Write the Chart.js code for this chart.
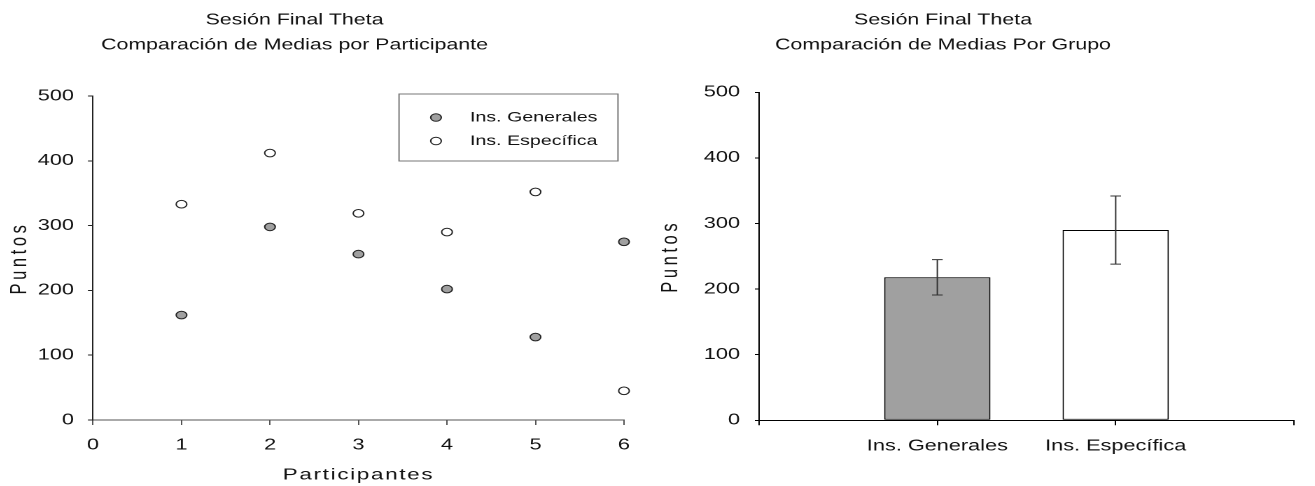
<!DOCTYPE html>
<html>
<head>
<meta charset="utf-8">
<script src="https://cdn.jsdelivr.net/npm/chart.js@4.4.1/dist/chart.umd.min.js"></script>
<style>
  html, body { margin: 0; padding: 0; background: #fff; width: 1315px; height: 486px; overflow: hidden; position: relative; }
  canvas { position: absolute; top: 0; }
</style>
</head>
<body>
<!-- both charts are drawn narrow and widened horizontally by 1.4 -->
<canvas id="left" width="490" height="486" style="left:-41px;width:686px;height:486px"></canvas>
<canvas id="right" width="520" height="486" style="left:582px;width:728px;height:486px"></canvas>
<script>
// ---- data ----
const participants   = [1, 2, 3, 4, 5, 6];
const generalScores  = [162, 298, 256, 202, 128, 275];
const specificScores = [333, 412, 319, 290, 352, 45];

const groupLabels = ['', 'Ins. Generales', 'Ins. Específica', ''];
const groupMeans  = [null, 218, 290, null];
const groupErrors = [null, 27, 52, null];

const seriesNames = ['Ins. Generales', 'Ins. Específica'];
const titleLeft   = ['Sesión Final Theta', 'Comparación de Medias por Participante'];
const titleRight  = ['Sesión Final Theta', 'Comparación de Medias Por Grupo'];

// ---- styling ----
const FONT = "'Liberation Sans', Arial, Helvetica, sans-serif";
const INK = '#111';
const GRAY = '#a0a0a0';

// Linear scale whose axis title can be letter-spaced
class SpacedLinearScale extends Chart.LinearScale {
  drawTitle() {
    const ctx = this.ctx;
    ctx.save();
    ctx.letterSpacing = (this.options.title.letterSpacing || 0) + 'px';
    super.drawTitle();
    ctx.restore();
  }
}
SpacedLinearScale.id = 'spacedLinear';
SpacedLinearScale.defaults = Chart.LinearScale.defaults;
Chart.register(SpacedLinearScale);

// Boxed legend drawn inside the plot
const boxLegend = {
  id: 'boxLegend',
  afterDraw(chart, args, o) {
    if (!o || !o.display) return;
    const ctx = chart.ctx;
    ctx.save();
    ctx.strokeStyle = o.borderColor;
    ctx.lineWidth = 1;
    ctx.strokeRect(o.x, o.y, o.width, o.height);
    ctx.font = `${o.fontSize}px ${FONT}`;
    ctx.textBaseline = 'middle';
    ctx.textAlign = 'left';
    chart.data.datasets.forEach((ds, i) => {
      const cy = o.y + o.firstRow + i * o.rowGap;
      ctx.fillStyle = ds.backgroundColor;
      ctx.strokeStyle = ds.borderColor;
      ctx.lineWidth = ds.borderWidth;
      Chart.helpers.drawPoint(ctx, { pointStyle: 'circle', radius: ds.pointRadius, borderWidth: ds.borderWidth, rotation: 0 }, o.x + o.markerX, cy);
      ctx.fillStyle = INK;
      ctx.fillText(ds.label, o.x + o.textX, cy);
    });
    ctx.restore();
  }
};

// Error bars (mean ± error) on top of each bar
const errorBars = {
  id: 'errorBars',
  afterDatasetsDraw(chart, args, o) {
    if (!o || !o.errors) return;
    const ctx = chart.ctx;
    const yScale = chart.scales.y;
    chart.data.datasets.forEach((ds, di) => {
      const meta = chart.getDatasetMeta(di);
      meta.data.forEach((bar, i) => {
        const v = ds.data[i];
        const e = o.errors[i];
        if (v == null || e == null) return;
        const x = bar.x;
        const top = yScale.getPixelForValue(v + e);
        const bot = yScale.getPixelForValue(v - e);
        ctx.save();
        ctx.strokeStyle = o.color;
        ctx.lineWidth = o.lineWidth;
        ctx.beginPath();
        ctx.moveTo(x, top); ctx.lineTo(x, bot);
        ctx.moveTo(x - o.cap, top); ctx.lineTo(x + o.cap, top);
        ctx.moveTo(x - o.cap, bot); ctx.lineTo(x + o.cap, bot);
        ctx.stroke();
        ctx.restore();
      });
    });
  }
};

const tickFont = { family: FONT, size: 15.5 };
const titleFont = { family: FONT, size: 15.25, weight: 'normal', lineHeight: 25 / 15.25 };
const axisTitleFont = { family: FONT, size: 16 };
const sideTitleFont = { family: FONT, size: 16.5 };

// ---- left: scores per participant ----
new Chart(document.getElementById('left'), {
  type: 'scatter',
  data: {
    datasets: [
      {
        label: seriesNames[0],
        data: participants.map((p, i) => ({ x: p, y: generalScores[i] })),
        backgroundColor: GRAY, borderColor: '#222', borderWidth: 1,
        pointRadius: 3.8, pointHoverRadius: 3.8, clip: false
      },
      {
        label: seriesNames[1],
        data: participants.map((p, i) => ({ x: p, y: specificScores[i] })),
        backgroundColor: '#ffffff', borderColor: '#222', borderWidth: 1,
        pointRadius: 3.8, pointHoverRadius: 3.8, clip: false
      }
    ]
  },
  options: {
    responsive: false,
    devicePixelRatio: 2,
    animation: false,
    events: [],
    layout: { padding: { left: 0, right: 10.7, top: 0, bottom: 0 } },
    plugins: {
      legend: { display: false },
      tooltip: { enabled: false },
      title: {
        display: true, text: titleLeft, color: INK, font: titleFont,
        padding: { top: 8, bottom: 38 }
      },
      boxLegend: {
        display: true, x: 314.3, y: 94, width: 156.4, height: 67,
        markerX: 26.4, textX: 50.7, firstRow: 23.5, rowGap: 23.5,
        fontSize: 14, borderColor: '#777'
      }
    },
    scales: {
      x: {
        type: 'spacedLinear', position: 'bottom', min: 0, max: 6,
        afterFit: (s) => { s.height = 66; },
        ticks: { stepSize: 1, color: INK, font: tickFont, padding: 10.7, maxRotation: 0 },
        grid: { display: true, drawOnChartArea: false, drawTicks: true, tickLength: 5, color: '#555' },
        border: { display: true, color: '#555', width: 1 },
        title: { display: true, text: 'Participantes', color: INK, letterSpacing: 1.2,
                 font: axisTitleFont, padding: { top: 0, bottom: 1.5 } }
      },
      y: {
        type: 'spacedLinear', position: 'left', min: 0, max: 500,
        afterFit: (s) => { s.width = 95.7; },
        ticks: { stepSize: 100, color: INK, font: tickFont, padding: 10 },
        grid: { display: true, drawOnChartArea: false, drawTicks: true, tickLength: 3.6, color: '#222' },
        border: { display: true, color: '#222', width: 1 },
        title: { display: true, text: 'Puntos', color: INK, letterSpacing: 3.6,
                 font: sideTitleFont, padding: { top: 33.8, bottom: 0 } }
      }
    }
  },
  plugins: [boxLegend]
});

// ---- right: group means with error bars ----
new Chart(document.getElementById('right'), {
  type: 'bar',
  data: {
    labels: groupLabels,
    datasets: [{
      label: 'Media',
      data: groupMeans,
      backgroundColor: [null, GRAY, '#ffffff', null],
      borderColor: '#000',
      borderWidth: 1,
      borderSkipped: false,
      categoryPercentage: 1,
      barPercentage: 0.596
    }]
  },
  options: {
    responsive: false,
    devicePixelRatio: 2,
    animation: false,
    events: [],
    layout: { padding: { left: 0, right: 4.3, top: 0, bottom: 0 } },
    plugins: {
      legend: { display: false },
      tooltip: { enabled: false },
      title: {
        display: true, text: titleRight, color: INK, font: titleFont,
        padding: { top: 8, bottom: 34.3 }
      },
      errorBars: { errors: groupErrors, color: '#333', lineWidth: 1, cap: 3.8 }
    },
    scales: {
      x: {
        type: 'category', position: 'bottom', offset: false,
        afterFit: (s) => { s.height = 65.7; },
        ticks: { color: INK, font: tickFont, padding: 11.4, maxRotation: 0, autoSkip: false },
        grid: { display: true, offset: false, drawOnChartArea: false, drawTicks: true, tickLength: 5, color: '#000' },
        border: { display: true, color: '#000', width: 1 }
      },
      y: {
        type: 'spacedLinear', position: 'left', min: 0, max: 500,
        afterFit: (s) => { s.width = 126.4; },
        ticks: { stepSize: 100, color: INK, font: tickFont, padding: 10.6 },
        grid: { display: true, drawOnChartArea: false, drawTicks: true, tickLength: 2.9, color: '#000' },
        border: { display: true, color: '#000', width: 1 },
        title: { display: true, text: 'Puntos', color: INK, letterSpacing: 3.6,
                 font: sideTitleFont, padding: { top: 53.8, bottom: 0 } }
      }
    }
  },
  plugins: [errorBars]
});
</script>
</body>
</html>
